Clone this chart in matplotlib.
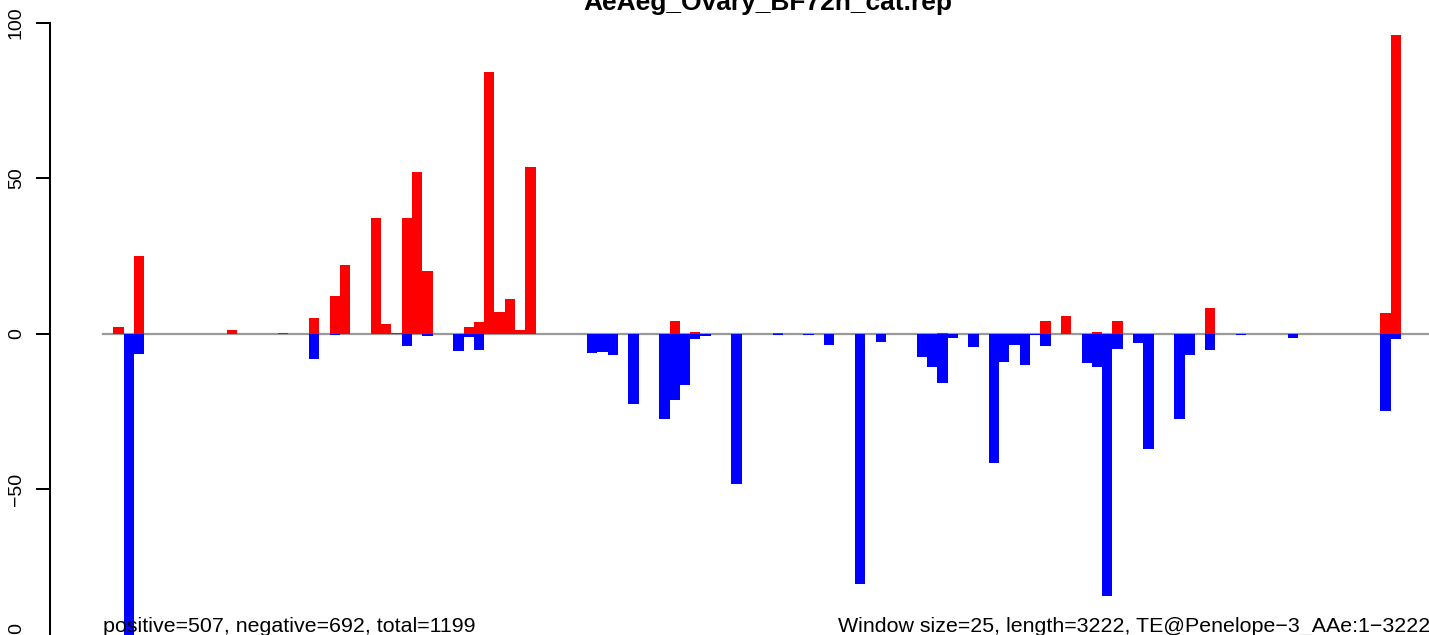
import matplotlib.pyplot as plt
from matplotlib.transforms import blended_transform_factory

plt.rcParams["font.family"] = ["Liberation Sans", "DejaVu Sans"]

title = "AeAeg_Ovary_BF72h_cat.rep"
window = 25
length = 3222
n_pos = 507
n_neg = 692

# window index -> value (sense strand, red)
pos_bins = [1, 3, 12, 17, 20, 22, 23, 26, 27, 28, 29, 30, 31, 35, 36, 37, 38, 39, 40, 41,
            55, 57, 65, 81, 91, 93, 96, 98, 107, 124, 125]
pos_vals = [2, 25, 1.2, 0.3, 5, 12, 22, 37, 3, 0.3, 37, 52, 20, 2.1, 3.7, 84, 7, 11, 1, 53.5,
            4, 0.4, 0.3, 0.3, 4, 5.6, 0.5, 4, 8.2, 6.6, 96]

# window index -> value (antisense strand, blue)
neg_bins = [2, 3, 20, 22, 29, 31, 34, 35, 36, 47, 48, 49, 51, 54, 55, 56, 57, 58, 61, 65,
            68, 70, 72, 73, 75, 79, 80, 81, 82, 84, 86, 87, 88, 89, 90, 91, 95, 96, 97, 98,
            100, 101, 104, 105, 107, 110, 115, 124, 125]
neg_vals = [-100, -6.5, -8.2, -0.5, -4, -0.8, -5.6, -1, -5.3, -6.3, -6, -6.9, -22.7, -27.5,
            -21.4, -16.6, -1.8, -0.8, -48.4, -0.5, -0.5, -3.7, -0.3, -80.5, -2.7, -7.6, -10.8,
            -15.9, -1.4, -4.3, -41.6, -9.2, -3.7, -10.1, -0.5, -4, -9.5, -10.8, -84.4, -5, -3.1,
            -37.1, -27.5, -6.9, -5.3, -0.5, -1.4, -24.9, -1.8]

W, H = 1429, 635
fig = plt.figure(figsize=(W / 100, H / 100), dpi=100)

# plot region runs past the picture edges (the reference is a crop)
left_px, right_px = 49.9, 1483.6
top_px, bottom_px = 22.5, 644.5
ax = fig.add_axes([left_px / W, (H - bottom_px) / H,
                   (right_px - left_px) / W, (bottom_px - top_px) / H])

pad = 0.04 * length
ax.set_xlim(-pad, length + pad)
ax.set_ylim(-100, 100)

ax.plot([0, length], [0, 0], color="#9a9a9a", lw=1.6, zorder=1)
ax.bar([b * window for b in pos_bins], pos_vals, width=window, align="edge",
       color="#ff0000", linewidth=0, zorder=2)
ax.bar([b * window for b in neg_bins], neg_vals, width=window, align="edge",
       color="#0000ff", linewidth=0, zorder=2)

for s in ["top", "right", "bottom"]:
    ax.spines[s].set_visible(False)
ax.spines["left"].set_linewidth(1.45)
ax.set_xticks([])
ax.set_yticks([-100, -50, 0, 50, 100])
ax.tick_params(axis="y", length=10, width=1.45, pad=8, labelsize=14)
for lab in ax.get_yticklabels():
    lab.set_rotation(90)
    lab.set_va("center")

fig.text(767.5 / W, (H - 10) / H, title, ha="center", va="baseline",
         fontsize=19, fontweight="bold")

trans = blended_transform_factory(ax.transData, fig.transFigure)
ax.text(0, (H - 632) / H, f"positive={n_pos}, negative={n_neg}, total={n_pos + n_neg}",
        transform=trans, ha="left", va="baseline", fontsize=15.4)
ax.text(length, (H - 632) / H,
        f"Window size={window}, length={length}, TE@Penelope\u22123_AAe:1\u2212{length}",
        transform=trans, ha="right", va="baseline", fontsize=15.4)

fig.savefig("out.png", dpi=100)
